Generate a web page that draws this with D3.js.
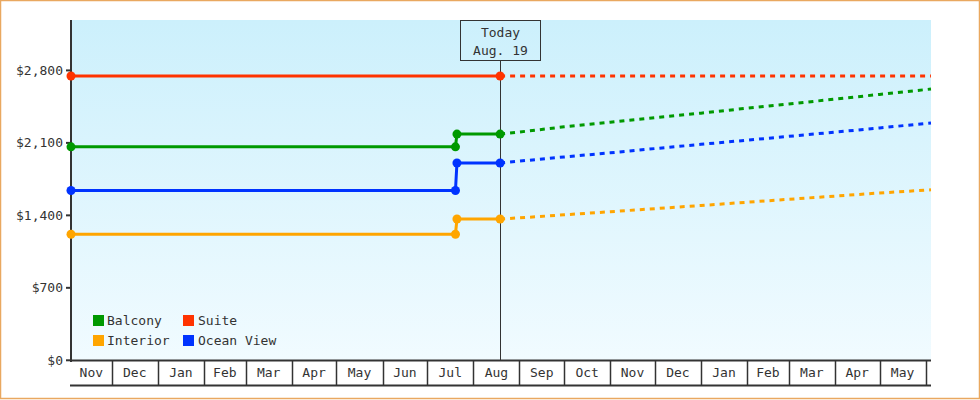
<!DOCTYPE html>
<html><head><meta charset="utf-8">
<script src="https://cdn.jsdelivr.net/npm/d3@7"></script>
<style>
html,body{margin:0;padding:0;background:#fff;}
svg{display:block;}
text{font-family:"DejaVu Sans Mono","Liberation Mono",monospace;font-size:13px;fill:#333;}
</style></head>
<body>
<svg id="chart" width="980" height="400"></svg>
<script>
// ---- data ----
const domainStart = new Date(2021, 10, 3, 15);
const domainEnd = new Date(2023, 5, 4, 14);
const today = new Date(2022, 7, 19);
const todayLabel = ["Today", "Aug. 19"];
const yTicks = [0, 700, 1400, 2100, 2800];
const yMax = 3287;

const seriesNames = ["Balcony", "Suite", "Interior", "Ocean View"];
const seriesColors = ["#009900", "#ff3300", "#ffa500", "#0033ff"];

// history (solid)
const stepDates = [domainStart, new Date(2022, 6, 20), new Date(2022, 6, 21), today];
const suiteDates = [domainStart, today];
const balconyHistory = [2062, 2062, 2185, 2185];
const suiteHistory = [2746, 2746];
const interiorHistory = [1218, 1218, 1365, 1365];
const oceanHistory = [1640, 1640, 1906, 1906];

// forecast (dotted)
const forecastDates = [today,
  new Date(2022, 8, 1), new Date(2022, 9, 1), new Date(2022, 10, 1), new Date(2022, 11, 1),
  new Date(2023, 0, 1), new Date(2023, 1, 1), new Date(2023, 2, 1), new Date(2023, 3, 1),
  new Date(2023, 4, 1), new Date(2023, 5, 1), domainEnd];
const balconyForecast = [2185, 2205, 2255, 2299, 2344, 2387, 2435, 2475, 2523, 2568, 2615, 2620];
const suiteForecast = [2746, 2746, 2746, 2746, 2746, 2746, 2746, 2746, 2746, 2746, 2746, 2746];
const interiorForecast = [1365, 1376, 1405, 1435, 1465, 1495, 1527, 1555, 1586, 1616, 1644, 1647];
const oceanForecast = [1906, 1924, 1964, 2004, 2045, 2086, 2126, 2163, 2204, 2244, 2288, 2292];

// ---- build ----
const series = [
  {name: "Balcony", color: seriesColors[0], hDates: stepDates, hist: balconyHistory, fc: balconyForecast},
  {name: "Suite", color: seriesColors[1], hDates: suiteDates, hist: suiteHistory, fc: suiteForecast},
  {name: "Interior", color: seriesColors[2], hDates: stepDates, hist: interiorHistory, fc: interiorForecast},
  {name: "Ocean View", color: seriesColors[3], hDates: stepDates, hist: oceanHistory, fc: oceanForecast}
];

const svg = d3.select("#chart");
const L = 71, R = 931, T = 20, B = 360.3;

const x = d3.scaleTime().domain([domainStart, domainEnd]).range([L, R]);
const y = d3.scaleLinear().domain([0, yMax]).range([B, T]);

// outer border
svg.append("rect").attr("x", 0.5).attr("y", 0.5).attr("width", 979).attr("height", 398)
  .attr("fill", "#fff").attr("stroke", "#e9a860").attr("stroke-width", 1.5);

// background gradient
const defs = svg.append("defs");
const grad = defs.append("linearGradient").attr("id", "bg").attr("x1", 0).attr("y1", 0).attr("x2", 0).attr("y2", 1);
grad.append("stop").attr("offset", "0%").attr("stop-color", "#ccf0fc");
grad.append("stop").attr("offset", "100%").attr("stop-color", "#f1fbff");
svg.append("rect").attr("x", L).attr("y", T).attr("width", R - L).attr("height", B - T).attr("fill", "url(#bg)");

// x axis cells
const monthStarts = d3.timeMonth.range(d3.timeMonth.ceil(domainStart), domainEnd);
const bounds = [domainStart, ...monthStarts, domainEnd];
const fmt = d3.timeFormat("%b");
const xg = svg.append("g");
xg.append("line").attr("x1", L).attr("x2", R).attr("y1", 360.5).attr("y2", 360.5).attr("stroke", "#333").attr("stroke-width", 2);
xg.append("line").attr("x1", L - 1).attr("x2", R).attr("y1", 385.5).attr("y2", 385.5).attr("stroke", "#333").attr("stroke-width", 2);
monthStarts.forEach(d => {
  const px = Math.round(x(d)) + 0.5;
  xg.append("line").attr("x1", px).attr("x2", px).attr("y1", 360).attr("y2", 385).attr("stroke", "#333").attr("stroke-width", 1.5);
});
for (let i = 0; i < bounds.length - 1; i++) {
  const a = x(bounds[i]), b = x(bounds[i + 1]);
  if (b - a < 25) continue;
  xg.append("text").attr("x", (a + b) / 2).attr("y", 377).attr("text-anchor", "middle").text(fmt(bounds[i]));
}

// y axis
const yg = svg.append("g");
yg.append("line").attr("x1", L).attr("x2", L).attr("y1", T).attr("y2", 362).attr("stroke", "#333").attr("stroke-width", 2);
yTicks.forEach(v => {
  const py = y(v);
  yg.append("line").attr("x1", 66).attr("x2", L).attr("y1", py).attr("y2", py).attr("stroke", "#333").attr("stroke-width", 2);
  yg.append("text").attr("x", 63).attr("y", py + 4.5).attr("text-anchor", "end").text("$" + d3.format(",")(v));
});

// today line and box
const tx = Math.round(x(today)) + 0.5;
svg.append("line").attr("x1", tx).attr("x2", tx).attr("y1", 60.5).attr("y2", 360).attr("stroke", "#333").attr("stroke-width", 1);
svg.append("rect").attr("x", tx - 40).attr("y", 20.5).attr("width", 80).attr("height", 40).attr("fill", "none").attr("stroke", "#333").attr("stroke-width", 1);
svg.append("text").attr("x", tx).attr("y", 37).attr("text-anchor", "middle").text(todayLabel[0]);
svg.append("text").attr("x", tx).attr("y", 54.5).attr("text-anchor", "middle").text(todayLabel[1]);

// lines
const line = d3.line().x(d => x(d[0])).y(d => y(d[1]));
series.forEach(s => {
  const fcPts = forecastDates.map((d, i) => [d, s.fc[i]]);
  svg.append("path").attr("d", line(fcPts)).attr("fill", "none").attr("stroke", s.color)
    .attr("stroke-width", 3).attr("stroke-dasharray", "5,5");
});
series.forEach(s => {
  const hPts = s.hDates.map((d, i) => [d, s.hist[i]]);
  svg.append("path").attr("d", line(hPts)).attr("fill", "none").attr("stroke", s.color).attr("stroke-width", 3);
  svg.selectAll(null).data(hPts).enter().append("circle")
    .attr("cx", d => x(d[0])).attr("cy", d => y(d[1])).attr("r", 4.5).attr("fill", s.color);
});

// legend
const legendPos = [[93, 315], [183, 315], [93, 335], [183, 335]];
seriesNames.forEach((n, i) => {
  const [lx, ly] = legendPos[i];
  svg.append("rect").attr("x", lx).attr("y", ly).attr("width", 11).attr("height", 11).attr("fill", seriesColors[i]);
  svg.append("text").attr("x", lx + (i % 2 === 0 ? 14 : 15)).attr("y", ly + 10).text(n);
});
</script>
</body></html>
